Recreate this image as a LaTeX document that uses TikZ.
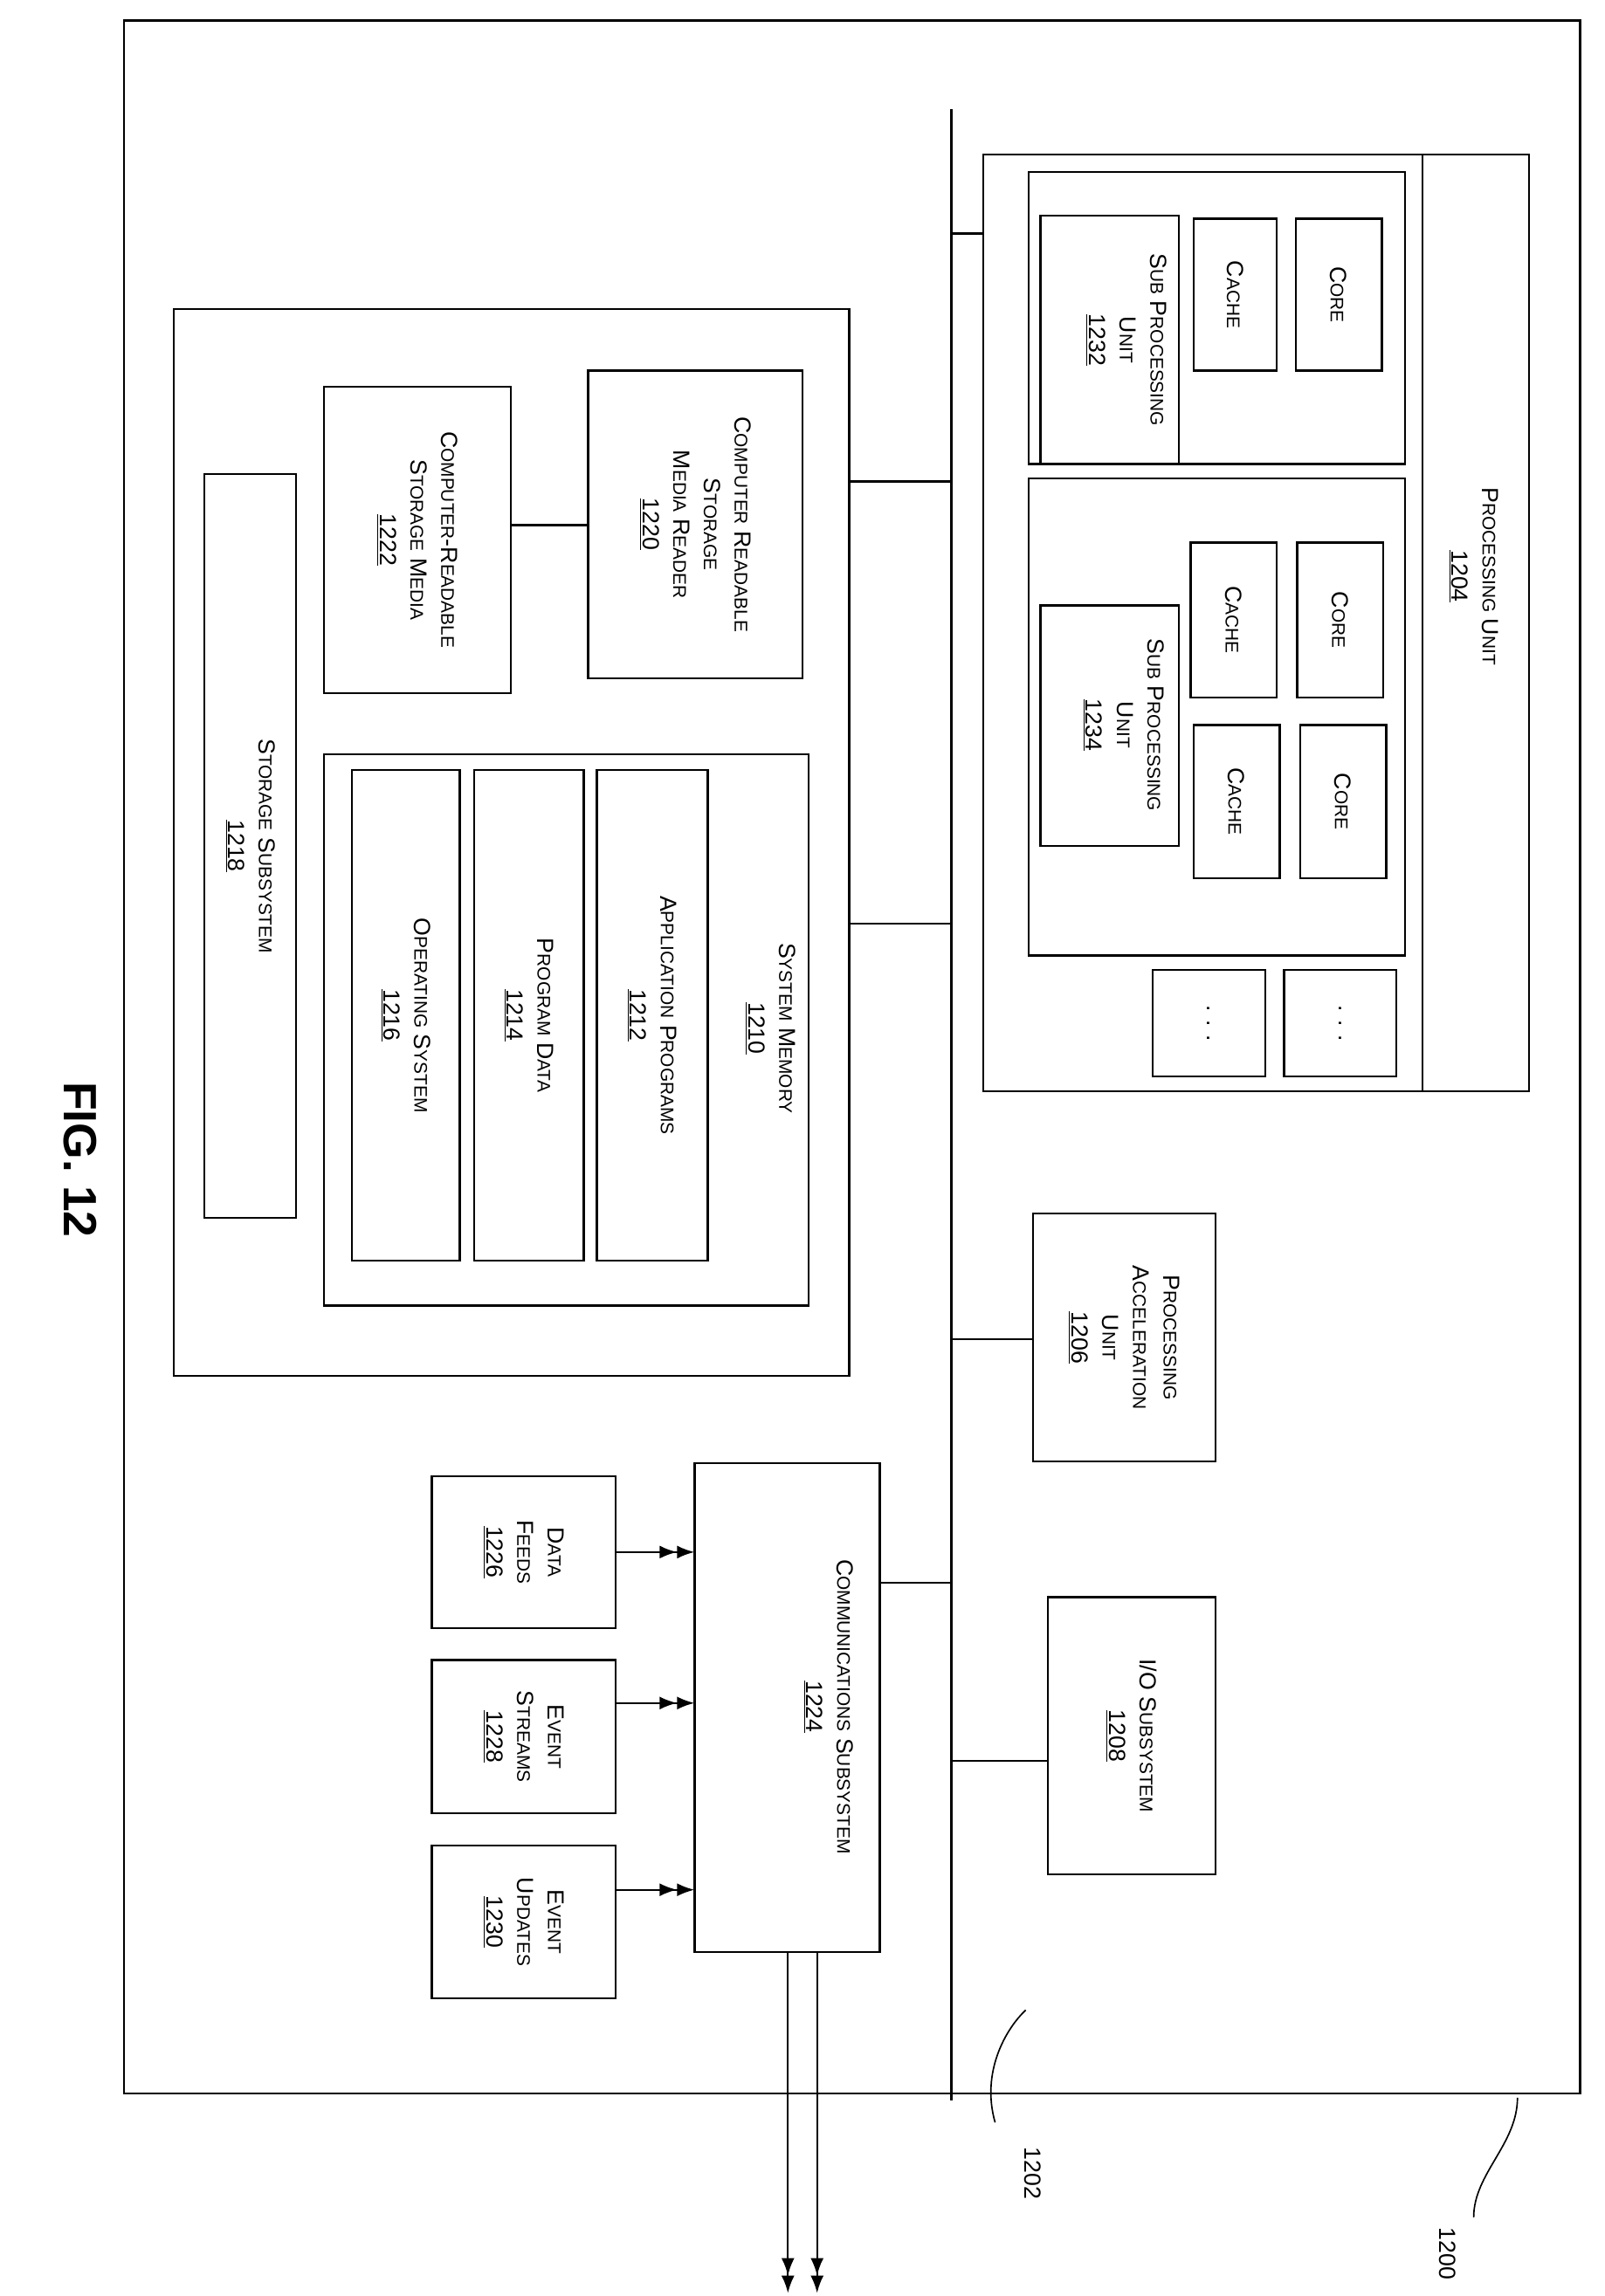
\documentclass[tikz,border=0pt]{standalone}
\usepackage{fontspec}
\setmainfont{Liberation Sans}
\usetikzlibrary{arrows.meta}
\newcommand\s[1]{{\fontsize{12.5}{14}\selectfont #1}}
\newcommand\bx[6][]{%
 \pgfmathsetmacro\bw{#5-#3}\pgfmathsetmacro\bh{#6-#4}%
 \pgfmathsetmacro\cx{(#3+#5)/2}\pgfmathsetmacro\cy{(#4+#6)/2}%
 \node[box,minimum width=\bw pt,minimum height=\bh pt,#1] (#2) at (\cx,\cy) {};}
\begin{document}
\begin{tikzpicture}[x=1pt,y=-1pt,
 box/.style={draw,line width=1.4pt,inner sep=0pt,outer sep=0pt},
 lbl/.style={rotate=-90,align=center,font=\fontsize{16}{21}\selectfont,inner sep=0pt},
 ln/.style={line width=1.4pt},
 arr/.style={line width=1.4pt,-{Latex[length=12pt,width=9pt]Latex[length=12pt,width=9pt]}}]
\useasboundingbox (0,0) rectangle (1100,1574);
\bx{outer}{85}{14}{1083}{1435}
% bus
\coordinate (bt) at (652,75); \coordinate (bb) at (652,1440);
\draw[ln] (bt) -- (bb);
% processing unit
\bx{pu}{674}{106}{1048}{748}
\draw[ln] (975,106) -- (975,748);
\node[lbl] (pul) at (1010,395) {P\s{ROCESSING} U\s{NIT}\\\underline{1204}};
\bx{su1}{705}{118}{963}{318}
\bx{su1l}{713}{148}{808}{318}
\node[lbl] at (772,233) {S\s{UB} P\s{ROCESSING}\\U\s{NIT}\\\underline{1232}};
\bx{ca1}{818}{150}{875}{254}\node[lbl] at (ca1) {C\s{ACHE}};
\bx{co1}{888}{150}{947}{254}\node[lbl] at (co1) {C\s{ORE}};
\bx{su2}{705}{328}{963}{655}
\bx{su2l}{713}{415}{808}{580}
\node[lbl] at (770,497) {S\s{UB} P\s{ROCESSING}\\U\s{NIT}\\\underline{1234}};
\bx{ca2}{816}{372}{875}{478}\node[lbl] at (ca2) {C\s{ACHE}};
\bx{co2}{889}{372}{948}{478}\node[lbl] at (co2) {C\s{ORE}};
\bx{ca3}{818}{497}{877}{602}\node[lbl] at (ca3) {C\s{ACHE}};
\bx{co3}{891}{497}{950}{602}\node[lbl] at (co3) {C\s{ORE}};
\bx{d1}{790}{665}{867}{738}\node[lbl] at (d1) {. . .};
\bx{d2}{880}{665}{957}{738}\node[lbl] at (d2) {. . .};
% 1206, 1208
\bx{pa}{708}{832}{833}{1002}
\node[lbl] at (pa) {P\s{ROCESSING}\\A\s{CCELERATION}\\U\s{NIT}\\\underline{1206}};
\bx{io}{718}{1095}{833}{1285}
\node[lbl] at (io) {I/O S\s{UBSYSTEM}\\\underline{1208}};
% storage block
\bx{big}{119}{212}{582}{943}
\bx{rd}{403}{254}{550}{465}
\node[lbl] at (rd) {C\s{OMPUTER} R\s{EADABLE}\\S\s{TORAGE}\\M\s{EDIA} R\s{EADER}\\\underline{1220}};
\bx{crm}{222}{265}{350}{475}
\node[lbl] at (crm) {C\s{OMPUTER}-R\s{EADABLE}\\S\s{TORAGE} M\s{EDIA}\\\underline{1222}};
\draw[ln] (crm.east) ++(0,-10) coordinate (c1) -- (rd.west |- c1);
\bx{sm}{222}{517}{554}{895}
\node[lbl] at (528,705) {S\s{YSTEM} M\s{EMORY}\\\underline{1210}};
\bx{ap}{409}{528}{485}{864}\node[lbl] at (ap) {A\s{PPLICATION} P\s{ROGRAMS}\\\underline{1212}};
\bx{pd}{325}{528}{400}{864}\node[lbl] at (pd) {P\s{ROGRAM} D\s{ATA}\\\underline{1214}};
\bx{os}{241}{528}{315}{864}\node[lbl] at (os) {O\s{PERATING} S\s{YSTEM}\\\underline{1216}};
\bx{ss}{140}{325}{203}{835}\node[lbl] at (ss) {S\s{TORAGE} S\s{UBSYSTEM}\\\underline{1218}};
% comms
\bx{cs}{476}{1003}{603}{1338}
\node[lbl] at (568,1170) {C\s{OMMUNICATIONS} S\s{UBSYSTEM}\\\underline{1224}};
\bx{df}{296}{1012}{422}{1116}\node[lbl] at (df) {D\s{ATA}\\F\s{EEDS}\\\underline{1226}};
\bx{es}{296}{1138}{422}{1243}\node[lbl] at (es) {E\s{VENT}\\S\s{TREAMS}\\\underline{1228}};
\bx{eu}{296}{1265}{422}{1370}\node[lbl] at (eu) {E\s{VENT}\\U\s{PDATES}\\\underline{1230}};
\draw[arr] (df.east) ++(0,0) coordinate (a1) -- (cs.west |- a1);
\draw[arr] (es.east) ++(0,-23) coordinate (a2) -- (cs.west |- a2);
\draw[arr] (eu.east) ++(0,-22) coordinate (a3) -- (cs.west |- a3);
\coordinate (o1) at (540,1572); \coordinate (o2) at (560,1572);
\draw[arr] (cs.south -| o1) -- (o1);
\draw[arr] (cs.south -| o2) -- (o2);
% bus connections
\coordinate (b1) at (652,160); \draw[ln] (b1) -- (pu.west |- b1);
\coordinate (b2) at (652,330); \draw[ln] (b2) -- (big.east |- b2);
\coordinate (b3) at (652,633); \draw[ln] (b3) -- (big.east |- b3);
\coordinate (b4) at (652,918); \draw[ln] (b4) -- (pa.west |- b4);
\coordinate (b5) at (652,1085); \draw[ln] (b5) -- (cs.east |- b5);
\coordinate (b6) at (652,1207); \draw[ln] (b6) -- (io.west |- b6);
% reference labels
\node[lbl] (l1202) at (708,1490) {1202};
\draw[line width=1pt] (682,1455) .. controls (672,1420) and (690,1390) .. (703,1378);
\node[lbl] (l1200) at (992,1545) {1200};
\draw[line width=1pt] (1040,1438) .. controls (1040,1470) and (1010,1490) .. (1010,1520);
\node[rotate=-90,font=\bfseries\fontsize{32}{36}\selectfont] (fig) at (55,795) {FIG. 12};
\end{tikzpicture}
\end{document}
